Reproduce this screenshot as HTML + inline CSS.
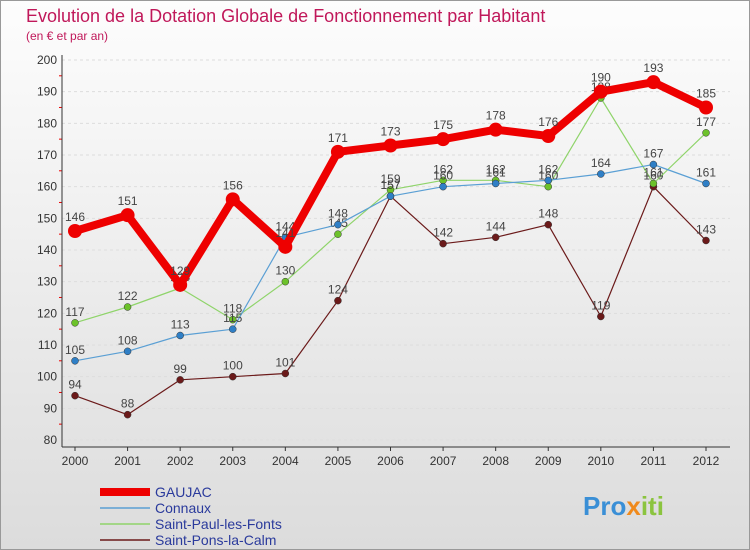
<!DOCTYPE html>
<html><head><meta charset="utf-8"><style>
html,body{margin:0;padding:0;background:#fff}
svg{display:block;font-family:"Liberation Sans",sans-serif}
</style></head><body>
<svg id="c" width="750" height="550" viewBox="0 0 750 550">
<defs>
<linearGradient id="bg" x1="0" y1="0" x2="0" y2="1"><stop offset="0" stop-color="#fdfdfd"/><stop offset="1" stop-color="#dcdcdc"/></linearGradient>
</defs>
<rect x="0.5" y="0.5" width="749" height="549" fill="url(#bg)" stroke="#999"/>
<text x="26" y="22" font-size="18" fill="#c0185a">Evolution de la Dotation Globale de Fonctionnement par Habitant</text>
<text x="26" y="40" font-size="12" fill="#c0185a">(en € et par an)</text>
<g id="axes"></g>
<g id="series"></g>
<g id="legend"></g>
<text x="583" y="515" font-size="26" font-weight="bold" fill="#3a8fd6">Pro<tspan fill="#f08a1c">x</tspan><tspan fill="#8bc43f">iti</tspan></text>
</svg>
<script>
const years=[2000,2001,2002,2003,2004,2005,2006,2007,2008,2009,2010,2011,2012];
const yTicks=[80,90,100,110,120,130,140,150,160,170,180,190,200];
const gaujac=[146,151,129,156,141,171,173,175,178,176,190,193,185];
const connaux=[105,108,113,115,144,148,157,160,161,162,164,167,161];
const saintPaul=[117,122,128,118,130,145,159,162,162,160,188,161,177];
const saintPons=[94,88,99,100,101,124,157,142,144,148,119,160,143];
const seriesNames=["GAUJAC","Connaux","Saint-Paul-les-Fonts","Saint-Pons-la-Calm"];

const NS="http://www.w3.org/2000/svg";
const X=i=>75+i*(706-75)/(years.length-1);
const Y=v=>440-(v-80)*(380/120);
function mk(tag,attrs,parent){const e=document.createElementNS(NS,tag);for(const k in attrs)e.setAttribute(k,attrs[k]);parent.appendChild(e);return e;}
const axes=document.getElementById('axes');
yTicks.forEach((t,k)=>{
  const l=mk('line',{x1:62,x2:730,y1:Y(t),y2:Y(t),stroke:'#ddd','stroke-dasharray':'3,3'},axes);
  
  
  const tx=mk('text',{x:57,y:Y(t)+4,'font-size':12,'text-anchor':'end',fill:'#333'},axes);
  tx.textContent=t;
  
  
  if(k>0) mk('line',{x1:59,x2:62,y1:Y(t)+15.8,y2:Y(t)+15.8,stroke:'#e00'},axes);
});
const ya=mk('line',{x1:62,x2:62,y1:55,y2:447,stroke:'#333'},axes);


const xa=mk('line',{x1:62,x2:730,y1:447,y2:447,stroke:'#333'},axes);


years.forEach((yr,i)=>{
  mk('line',{x1:X(i),x2:X(i),y1:447,y2:451,stroke:'#333'},axes);
  const tx=mk('text',{x:X(i),y:465,'font-size':12,'text-anchor':'middle',fill:'#333'},axes);
  tx.textContent=yr;
  
  
});
const sg=document.getElementById('series');
const defs=[
 {d:saintPons,c:'#6b1a1a',w:1.2,r:3.5,n:'saint-pons-la-calm'},
 {d:saintPaul,c:'#8fd46a',w:1.2,r:3.5,n:'saint-paul-les-fonts',dot:'#6cc22a'},
 {d:connaux,c:'#5a9fd4',w:1.2,r:3.5,n:'connaux',dot:'#2f7fc6'},
 {d:gaujac,c:'#ee0000',w:8,r:7,n:'gaujac'}
];
defs.forEach(s=>{
  const g=mk('g',{},sg);
  
  
  const p=mk('polyline',{points:s.d.map((v,i)=>X(i)+','+Y(v)).join(' '),fill:'none',stroke:s.c,'stroke-width':s.w,'stroke-linejoin':'round'},g);
  
  
  s.d.forEach((v,i)=>{
    const c=mk('circle',{cx:X(i),cy:Y(v),r:s.r,fill:s.dot||s.c,stroke:'#333','stroke-width':s.r>5?0:0.5},g);
    
    
    const t=mk('text',{x:X(i),y:Y(v)-(s.r>5?10:7),'font-size':12,'text-anchor':'middle',fill:'#444'},g);
    t.textContent=v;
    
    
  });
});
const lg=document.getElementById('legend');
const lc=['#ee0000','#5a9fd4','#8fd46a','#6b1a1a'], lw=[8,1.5,1.5,1.5];
seriesNames.forEach((n,i)=>{
  const y=492+i*16;
  const g=mk('g',{},lg);
  
  
  mk('line',{x1:100,x2:150,y1:y,y2:y,stroke:lc[i],'stroke-width':lw[i]},g);
  const t=mk('text',{x:155,y:y+5,'font-size':14,fill:'#2a3a9c'},g);
  t.textContent=n;
});
</script>
</body></html>
